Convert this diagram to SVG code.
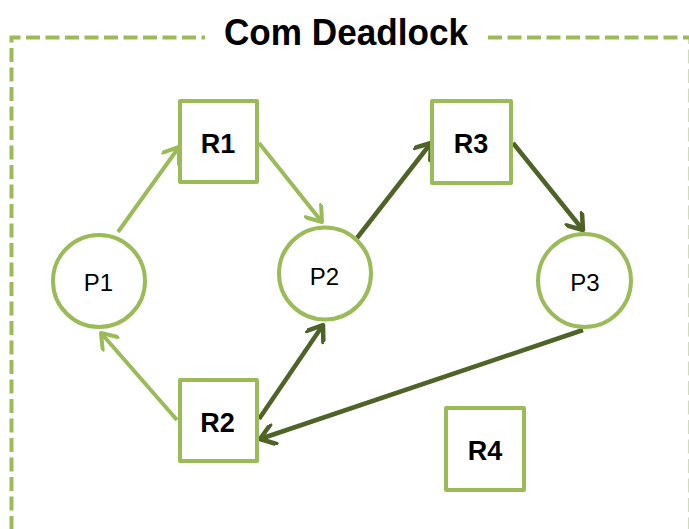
<svg xmlns="http://www.w3.org/2000/svg" width="689" height="529" viewBox="0 0 689 529">
<style>
.border{fill:none;stroke:#9BBB59;stroke-width:4;stroke-dasharray:14 5.5}
.box{fill:#fff;stroke:#9BBB59;stroke-width:4;stroke-linejoin:round}
.proc{fill:#fff;stroke:#9BBB59;stroke-width:4}
.rl{font-family:"Liberation Sans",Arial,sans-serif;font-weight:bold;font-size:27px;fill:#000;text-anchor:middle}
.pl{font-family:"Liberation Sans",Arial,sans-serif;font-size:24px;fill:#000;text-anchor:middle}
.title{font-family:"Liberation Sans",Arial,sans-serif;font-weight:bold;font-size:37px;fill:#000}
.al{fill:none;stroke:#9BBB59;stroke-width:4}
.ad{fill:none;stroke:#4F6228;stroke-width:4.5}
</style>
<defs>
<marker id="hl" viewBox="0 0 22 22" refX="18" refY="11" markerWidth="22" markerHeight="22" markerUnits="userSpaceOnUse" orient="auto">
<path d="M4,1 L18,11 L4,21" fill="none" stroke="#9BBB59" stroke-width="4" stroke-linecap="round" stroke-linejoin="round"/>
</marker>
<marker id="hd" viewBox="0 0 22 22" refX="18" refY="11" markerWidth="22" markerHeight="22" markerUnits="userSpaceOnUse" orient="auto">
<path d="M4,1 L18,11 L4,21" fill="none" stroke="#4F6228" stroke-width="4.5" stroke-linecap="round" stroke-linejoin="round"/>
</marker>
</defs>
<rect width="689" height="529" fill="#fff"/>
<g id="frame">
<path class="border" d="M11.5,530 L11.5,37.5 L205,37.5"/>
<path class="border" d="M488,37.5 L690.5,37.5 L690.5,530"/>
<text class="title" x="224" y="45" textLength="244" lengthAdjust="spacingAndGlyphs">Com Deadlock</text>
</g>
<g id="connectors">
<line class="al" x1="118" y1="232" x2="179" y2="147" marker-end="url(#hl)"/>
<line class="al" x1="259" y1="143" x2="322" y2="222" marker-end="url(#hl)"/>
<line class="ad" x1="357" y1="238" x2="431" y2="143" marker-end="url(#hd)"/>
<line class="ad" x1="513" y1="143" x2="583" y2="230" marker-end="url(#hd)"/>
<line class="al" x1="177" y1="420" x2="101" y2="333" marker-end="url(#hl)"/>
<line class="ad" x1="259" y1="419" x2="323" y2="325" marker-end="url(#hd)"/>
<line class="ad" x1="583" y1="330" x2="260" y2="439" marker-end="url(#hd)"/>
</g>
<g id="P1"><circle class="proc" cx="99" cy="281" r="46"/><text class="pl" x="98.5" y="291">P1</text></g>
<g id="P2"><circle class="proc" cx="325" cy="273.5" r="46"/><text class="pl" x="324.5" y="285">P2</text></g>
<g id="P3"><circle class="proc" cx="584.5" cy="280.5" r="46.5"/><text class="pl" x="585" y="291">P3</text></g>
<g id="R1"><rect class="box" x="180" y="101" width="77" height="81"/><text class="rl" x="218" y="153">R1</text></g>
<g id="R3"><rect class="box" x="432" y="101" width="79" height="82"/><text class="rl" x="471" y="153">R3</text></g>
<g id="R2"><rect class="box" x="180" y="380" width="77" height="81"/><text class="rl" x="217.5" y="432">R2</text></g>
<g id="R4"><rect class="box" x="446" y="408" width="78" height="82"/><text class="rl" x="485" y="460">R4</text></g>
</svg>
